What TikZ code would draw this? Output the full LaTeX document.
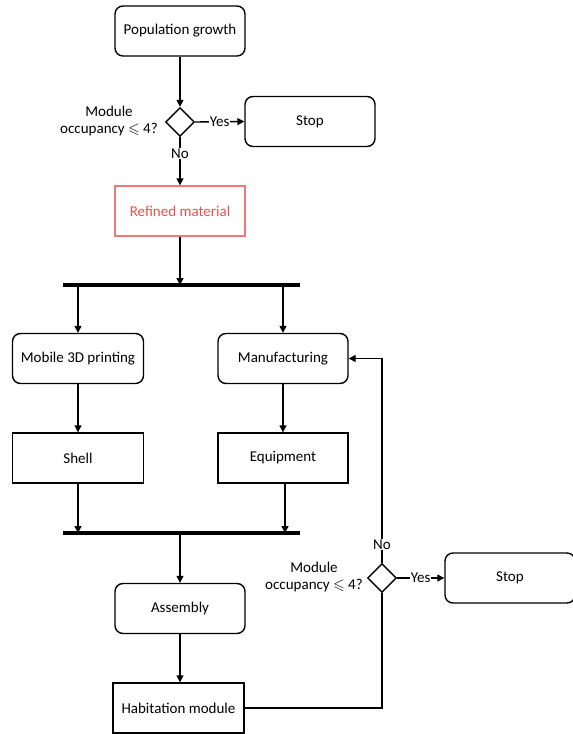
\documentclass[tikz,border=0pt]{standalone}
\usepackage{fontspec}
\usepackage{amssymb}
\setmainfont{Carlito}
\usetikzlibrary{shapes.geometric,arrows.meta}
\definecolor{redtxt}{HTML}{E8504C}
\definecolor{redline}{HTML}{F07878}
\begin{document}
\begin{tikzpicture}[x=1pt,y=-1pt,
  every node/.style={font=\fontsize{15}{17}\selectfont},
  rbox/.style={draw,line width=1.4pt,rounded corners=8pt,minimum width=130pt,minimum height=50pt,inner sep=0pt},
  sbox/.style={draw,line width=1.4pt,minimum width=131pt,minimum height=50pt,inner sep=0pt},
  dia/.style={draw,diamond,line width=1.4pt,minimum size=29pt,inner sep=0pt},
  conn/.style={line width=1.4pt},
  arr/.style={line width=1.4pt,-{Triangle[length=7pt,width=7pt]}},
  bar/.style={line width=3.2pt},
  lbl/.style={fill=white,inner sep=0.5pt},
  qtxt/.style={align=center,anchor=east,inner sep=0pt}]
\useasboundingbox (0,0) rectangle (573,734);

\node[rbox] (pop) at (180,31) {Population growth};
\node[dia] (d1) at (180,122) {};
\node[qtxt] (q1) at (158,121) {Module\\occupancy $\leqslant$ 4?};
\node[rbox] (stop1) at (310,121.5) {Stop};
\node[sbox,draw=redline,text=redtxt,minimum width=130pt] (ref) at (180,211) {Refined material};

\coordinate (b1l) at (63,285);
\coordinate (b1r) at (300,285);
\coordinate (b1m) at (180,285);
\coordinate (b1a) at (78,285);
\coordinate (b1b) at (283,285);

\node[rbox,minimum width=131pt] (mob) at (78,358.5) {Mobile 3D printing};
\node[rbox] (man) at (283,358.5) {Manufacturing};
\node[sbox] (shell) at (78,458) {Shell};
\node[sbox,minimum width=130pt] (equip) at (283,458) {Equipment};

\coordinate (b2l) at (63,533);
\coordinate (b2r) at (300,533);
\coordinate (b2m) at (180,533);
\coordinate (b2a) at (78,533);
\coordinate (b2b) at (285,533);

\node[rbox] (asm) at (180,608.5) {Assembly};
\node[sbox] (hab) at (178.5,708) {Habitation module};

\node[dia] (d2) at (382,578) {};
\node[qtxt] (q2) at (363,577) {Module\\occupancy $\leqslant$ 4?};
\node[rbox] (stop2) at (510,578) {Stop};

% connectors
\draw[arr] (pop) -- (d1);
\draw[arr] (d1.east) -- node[lbl]{Yes} (stop1.west);
\draw[arr] (d1.south) -- node[lbl,pos=0.34]{No} (ref.north);
\draw[arr] (ref.south) -- (b1m);
\draw[bar] (b1l) -- (b1r);
\draw[arr] (b1a) -- (b1a |- mob.north);
\draw[arr] (b1b) -- (b1b |- man.north);
\draw[arr] (mob.south) -- (shell.north);
\draw[arr] (man.south) -- (equip.north);
\draw[arr] (b2a |- shell.south) -- (b2a);
\draw[arr] (b2b |- equip.south) -- (b2b);
\draw[bar] (b2l) -- (b2r);
\draw[arr] (b2m) -- (asm.north);
\draw[arr] (asm.south) -- (asm.south |- hab.north);
\draw[conn] (hab.east) -| (d2.south);
\draw[arr] (d2.east) -- node[lbl]{Yes} (stop2.west);
\draw[arr] (d2.north) -- node[lbl,pos=0.09]{No} (d2.north |- man.east) -- (man.east);
\end{tikzpicture}
\end{document}
